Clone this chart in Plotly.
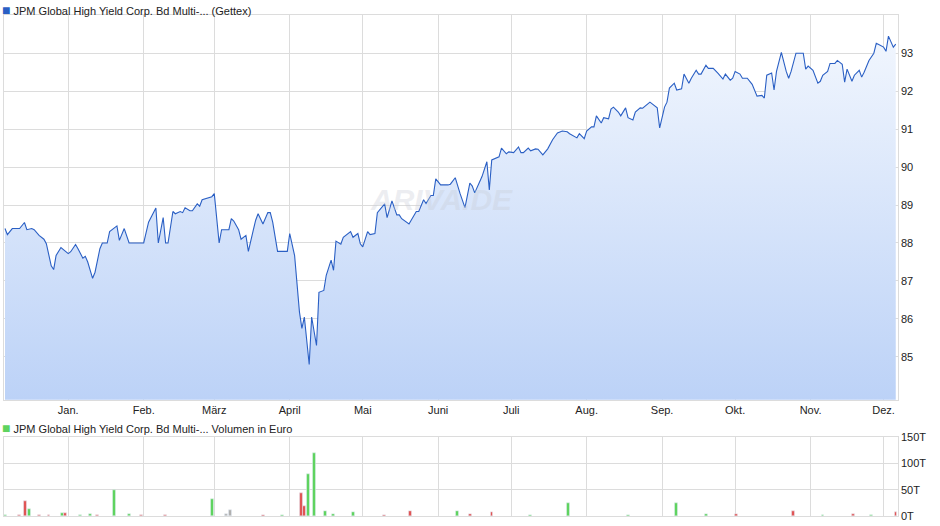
import pandas as pd
import plotly.graph_objects as go
from plotly.subplots import make_subplots

base = pd.Timestamp("2024-01-01")

# price series: day offset from 1 Jan and price
price_days = [-26, -25, -23, -20, -18, -17, -15, -14, -12, -10, -9, -7, -6, -5, -3, 0, 1, 3, 4, 6, 7, 8, 10, 11, 13,
              14, 16, 17, 20, 21, 23, 25, 31, 33, 36, 37, 39, 40, 41, 43, 44, 46, 47, 48, 50, 51, 53, 54, 55, 57,
              59, 60, 62, 63, 66, 67, 68, 70, 71, 73, 74, 76, 77, 78, 80, 82, 83, 84, 86, 90, 91, 93, 95, 96, 97,
              99, 100, 102, 103, 105, 106, 108, 109, 110, 112, 113, 116, 117, 119, 120, 121, 123, 124, 126, 127,
              130, 131, 133, 135, 136, 137, 140, 143, 144, 146, 147, 149, 150, 151, 153, 156, 157, 159, 161, 163,
              165, 166, 167, 170, 172, 173, 174, 177, 178, 180, 181, 183, 185, 186, 187, 189, 190, 192, 193, 195,
              197, 199, 201, 203, 205, 206, 209, 210, 212, 213, 215, 216, 217, 219, 220, 222, 223, 224, 226, 227,
              229, 230, 232, 233, 235, 236, 239, 242, 243, 245, 246, 247, 249, 250, 252, 253, 255, 256, 258, 259,
              260, 262, 263, 265, 267, 269, 270, 272, 273, 274, 276, 277, 279, 281, 283, 285, 286, 287, 289, 290,
              291, 293, 295, 296, 297, 299, 302, 303, 304, 306, 308, 309, 310, 312, 313, 315, 316, 318, 319, 320,
              322, 323, 325, 326, 327, 329, 331, 332, 333, 335, 336, 337, 339, 340]
price = [88.38, 88.22, 88.38, 88.38, 88.54, 88.35, 88.38, 88.35, 88.2, 88.1, 87.98, 87.4, 87.3, 87.67, 87.88,
         87.72, 87.77, 87.96, 87.85, 87.6, 87.65, 87.5, 87.07, 87.23, 87.85, 88.0, 88.0, 88.3, 88.45, 88.07, 88.38,
         88.0, 88.0, 88.55, 88.92, 88.0, 88.67, 88.0, 88.0, 88.83, 88.77, 88.83, 88.8, 88.93, 88.85, 88.85, 89.03,
         88.97, 89.14, 89.17, 89.22, 89.3, 88.0, 88.35, 88.35, 88.64, 88.58, 88.35, 88.1, 88.2, 87.78, 88.33, 88.6,
         88.77, 88.5, 88.8, 88.8, 88.55, 87.78, 87.78, 88.25, 87.67, 86.18, 85.75, 86.05, 84.8, 86.05, 85.3, 86.7,
         86.75, 87.15, 87.55, 87.28, 88.05, 87.97, 88.15, 88.3, 88.15, 88.25, 87.98, 87.9, 88.3, 88.22, 88.25, 88.8,
         89.03, 88.67, 89.11, 88.74, 88.74, 88.64, 88.5, 88.83, 88.83, 89.14, 89.04, 89.25, 89.25, 89.69, 89.53,
         89.53, 89.55, 89.72, 89.3, 88.93, 89.58, 89.5, 89.32, 89.75, 90.14, 89.4, 90.19, 90.27, 90.5, 90.35, 90.4,
         90.38, 90.53, 90.38, 90.38, 90.5, 90.43, 90.48, 90.47, 90.32, 90.48, 90.72, 90.9, 90.95, 90.93, 90.88,
         90.77, 90.88, 90.75, 90.95, 91.06, 91.06, 91.35, 91.16, 91.3, 91.27, 91.53, 91.58, 91.45, 91.35, 91.56,
         91.3, 91.24, 91.45, 91.56, 91.55, 91.71, 91.56, 91.03, 91.58, 91.71, 92.08, 92.21, 92.03, 92.06, 92.45,
         92.21, 92.34, 92.55, 92.45, 92.45, 92.68, 92.6, 92.6, 92.47, 92.32, 92.45, 92.29, 92.34, 92.52, 92.45,
         92.34, 92.34, 92.18, 91.87, 91.89, 91.82, 92.42, 92.48, 92.03, 92.52, 93.02, 92.52, 92.34, 92.52, 93.0,
         93.0, 92.58, 92.66, 92.55, 92.21, 92.26, 92.42, 92.52, 92.73, 92.73, 92.81, 92.71, 92.24, 92.58, 92.26,
         92.42, 92.55, 92.37, 92.5, 92.81, 93.0, 93.26, 93.23, 93.16, 93.05, 93.45, 93.16, 93.24]

# volume in thousands (T), colour by direction
vol_days = [-26, -20, -17.6, -16, -12, -8, -2.6, -1.4, 5, 9, 12, 18.8, 25, 30, 40, 59, 65, 66.5, 80, 88, 95.6,
            96.8, 98.6, 101, 105.5, 109, 117, 130, 140.6, 160, 165, 174, 190, 205.6, 230, 250, 262, 274.5, 298,
            310, 322.5, 330, 340]
vol = [2, 1, 28, 13, 1, 2, 5, 5, 1, 3, 2, 49, 3, 2, 1, 32, 3, 11, 1, 1, 43, 18, 79, 119, 9, 4, 7, 1, 9, 9, 3, 7,
       1, 25, 2, 24, 4, 4, 9, 2, 4, 1, 8]
vol_dir = ["g", "r", "r", "g", "r", "r", "g", "r", "g", "g", "r", "g", "g", "r", "r", "g", "x", "x", "r", "g",
           "r", "r", "g", "g", "g", "g", "g", "r", "r", "g", "r", "r", "g", "g", "g", "g", "g", "r", "r", "g",
           "r", "g", "r"]

month_days = [0, 31, 60, 91, 121, 152, 182, 213, 244, 274, 305, 335]
month_labels = ["Jan.", "Feb.", "März", "April", "Mai", "Juni", "Juli", "Aug.", "Sep.", "Okt.", "Nov.", "Dez."]

to_date = lambda d: base + pd.to_timedelta(d, unit="D")
px = [to_date(d) for d in price_days]
vx = [to_date(d) for d in vol_days]
months = [to_date(d) for d in month_days]
cmap = {"g": "#5fd35f", "r": "#e05555", "x": "#b0b0b0"}

fig = make_subplots(rows=2, cols=1)
fig.add_trace(go.Scatter(x=px, y=price, mode="lines", line=dict(color="#2a5fc4", width=1.1),
                         fill="tozeroy",
                         fillgradient=dict(type="vertical", start=83.87, stop=94,
                                           colorscale=[[0, "#bcd2f7"], [1, "#f4f8fe"]]),
                         showlegend=False), row=1, col=1)
fig.add_trace(go.Bar(x=vx, y=vol, marker_color=[cmap[c] for c in vol_dir], width=1.2 * 86400000,
                     showlegend=False), row=2, col=1)

xr = [to_date(-26.5), to_date(340.8)]
grid = "#dcdcdc"
fig.update_layout(
    width=940, height=526, margin=dict(l=0, r=0, t=0, b=0, autoexpand=False),
    paper_bgcolor="white", plot_bgcolor="white", bargap=0,
    font=dict(family="Liberation Sans, Arial", size=11, color="#222"),
    xaxis=dict(domain=[0.004, 0.955], range=xr, tickvals=months, ticktext=month_labels, automargin=False,
               showgrid=True, gridcolor=grid, ticks="", showline=True, linecolor=grid, mirror=True),
    yaxis=dict(domain=[0.240, 0.971], range=[83.87, 94.0], side="right", automargin=False,
               tickvals=[85, 86, 87, 88, 89, 90, 91, 92, 93],
               gridcolor=grid, showline=True, linecolor=grid, mirror=True, zeroline=False),
    xaxis2=dict(domain=[0.004, 0.955], range=xr, tickvals=months, showticklabels=False, automargin=False,
                showgrid=True, gridcolor=grid, showline=True, linecolor=grid, mirror=True),
    yaxis2=dict(domain=[0.019, 0.169], range=[0, 150], side="right", tickvals=[0, 50, 100, 150],
                automargin=False,
                ticktext=["0T", "50T", "100T", "150T"], gridcolor=grid, showline=True, linecolor=grid,
                mirror=True, zeroline=False),
)
fig.add_annotation(xref="paper", yref="paper", x=0.47, y=0.62, text="<b><i>ARIVA.DE</i></b>",
                   showarrow=False, font=dict(size=30, color="rgba(200,205,215,0.35)"))
fig.add_annotation(xref="paper", yref="paper", x=0.0, y=1.0, xanchor="left", yanchor="top",
                   text="<span style='color:#2a5fc4;font-size:14px'>■</span> JPM Global High Yield Corp. Bd Multi-... (Gettex)",
                   showarrow=False, font=dict(size=11))
fig.add_annotation(xref="paper", yref="paper", x=0.0, y=0.205, xanchor="left", yanchor="top",
                   text="<span style='color:#5fd35f;font-size:14px'>■</span> JPM Global High Yield Corp. Bd Multi-... Volumen in Euro",
                   showarrow=False, font=dict(size=11))
fig.write_html("out.html", config={"displayModeBar": False},
               post_script="document.body.style.margin='0';")
